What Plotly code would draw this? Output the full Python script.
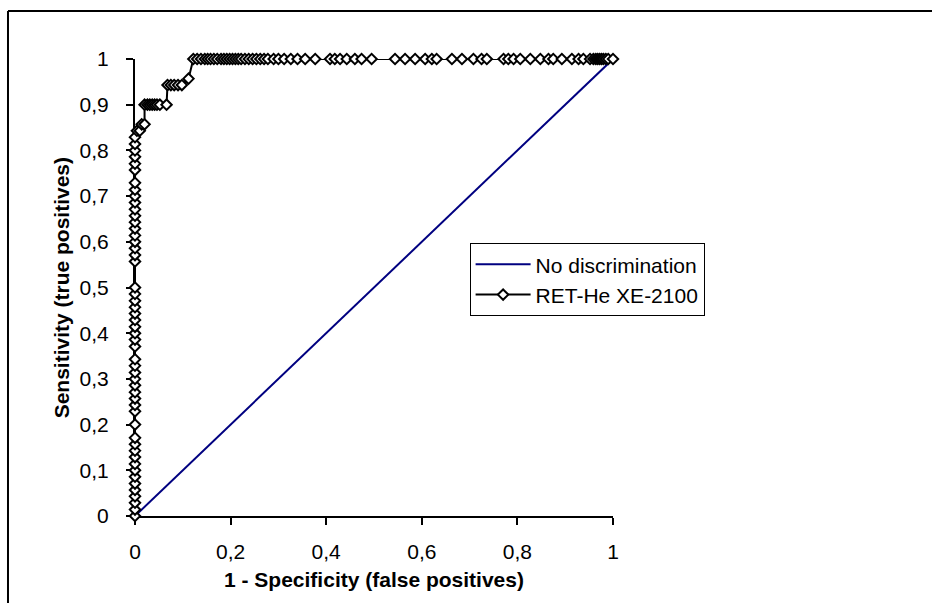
import plotly.graph_objects as go

# ---- data ----
diag_x = [0, 1]
diag_y = [0, 1]

roc_fpr = ([0.0] * 52 +
           [0.004, 0.010, 0.014, 0.020, 0.020, 0.026, 0.031, 0.036, 0.041, 0.046, 0.052, 0.066,
            0.068, 0.075, 0.082, 0.090, 0.098, 0.112] +
           [0.122, 0.13, 0.138, 0.146, 0.152, 0.158, 0.165, 0.172, 0.18, 0.186, 0.192, 0.198,
            0.204, 0.21, 0.216, 0.222, 0.23, 0.238, 0.246, 0.254, 0.262, 0.27, 0.278, 0.29,
            0.3, 0.312, 0.326, 0.34, 0.356, 0.377, 0.408, 0.418, 0.429, 0.443, 0.46, 0.474,
            0.495, 0.544, 0.565, 0.586, 0.607, 0.621, 0.631, 0.663, 0.684, 0.708, 0.725,
            0.736, 0.771, 0.781, 0.792, 0.806, 0.827, 0.848, 0.865, 0.875, 0.893, 0.914,
            0.928, 0.938, 0.952, 0.959, 0.964, 0.968, 0.972, 0.976, 0.98, 0.985, 0.99, 1.0])

roc_tpr = ([0, 0.014, 0.029, 0.043, 0.057, 0.071, 0.086, 0.1, 0.114, 0.129, 0.143, 0.157,
            0.171, 0.2, 0.229, 0.243, 0.257, 0.271, 0.286, 0.3, 0.314, 0.329, 0.343, 0.371,
            0.386, 0.4, 0.414, 0.429, 0.443, 0.457, 0.471, 0.486, 0.5, 0.557, 0.571, 0.586,
            0.6, 0.614, 0.629, 0.643, 0.657, 0.671, 0.686, 0.7, 0.714, 0.729, 0.757, 0.771,
            0.786, 0.8, 0.814, 0.829] +
           [0.843, 0.843, 0.857, 0.857, 0.9, 0.9, 0.9, 0.9, 0.9, 0.9, 0.9, 0.9,
            0.943, 0.943, 0.943, 0.943, 0.943, 0.957] +
           [1.0] * 70)

x_ticks = [0, 0.2, 0.4, 0.6, 0.8, 1]
x_ticktext = ["0", "0,2", "0,4", "0,6", "0,8", "1"]
y_ticks = [0, 0.1, 0.2, 0.3, 0.4, 0.5, 0.6, 0.7, 0.8, 0.9, 1]
y_ticktext = ["0", "0,1", "0,2", "0,3", "0,4", "0,5", "0,6", "0,7", "0,8", "0,9", "1"]

FONT = "Arial, 'Liberation Sans', sans-serif"

fig = go.Figure()
fig.add_trace(go.Scatter(
    x=diag_x, y=diag_y, mode="lines", name="No discrimination",
    line=dict(color="#000080", width=2), cliponaxis=False))
fig.add_trace(go.Scatter(
    x=roc_fpr, y=roc_tpr, mode="lines+markers", name="RET-He XE-2100",
    line=dict(color="black", width=2),
    marker=dict(symbol="diamond", size=8, color="white",
                line=dict(color="black", width=2)),
    cliponaxis=False))

axis_common = dict(showgrid=False, zeroline=False, showline=True, linecolor="black",
                   linewidth=2, ticks="outside", ticklen=7, tickwidth=2, tickcolor="black",
                   layer="below traces", tickfont=dict(family=FONT, size=21, color="black"))

fig.update_layout(
    width=932, height=603,
    margin=dict(l=135, r=319, t=59, b=87),
    paper_bgcolor="white", plot_bgcolor="white",
    font=dict(family=FONT, size=21, color="black"),
    xaxis=dict(range=[0, 1], tickvals=x_ticks, ticktext=x_ticktext,
               ticklabelstandoff=9, **axis_common),
    yaxis=dict(range=[0, 1], tickvals=y_ticks, ticktext=y_ticktext,
               ticklabelstandoff=13, **axis_common),
    showlegend=True,
    legend=dict(x=0.70, y=0.597, xanchor="left", yanchor="top",
                bgcolor="white", bordercolor="black", borderwidth=1,
                font=dict(family=FONT, size=21, color="black"),
                itemwidth=55, tracegroupgap=0),
    annotations=[
        dict(text="<b>1 - Specificity (false positives)</b>", xref="paper", yref="paper",
             x=0.5, y=-0.138, xanchor="center", yanchor="middle", showarrow=False,
             font=dict(family=FONT, size=21)),
        dict(text="<b>Sensitivity (true positives)</b>", xref="paper", yref="paper",
             x=-0.153, y=0.5, xanchor="center", yanchor="middle", textangle=-90,
             showarrow=False, font=dict(family=FONT, size=21)),
    ],
    shapes=[
        dict(type="line", xref="paper", yref="paper", x0=-0.2657, y0=1.105, x1=2.0, y1=1.105,
             line=dict(color="black", width=2)),
        dict(type="line", xref="paper", yref="paper", x0=-0.2657, y0=1.105, x1=-0.2657, y1=-0.3,
             line=dict(color="black", width=2)),
    ],
)

fig.write_html("out.html")
